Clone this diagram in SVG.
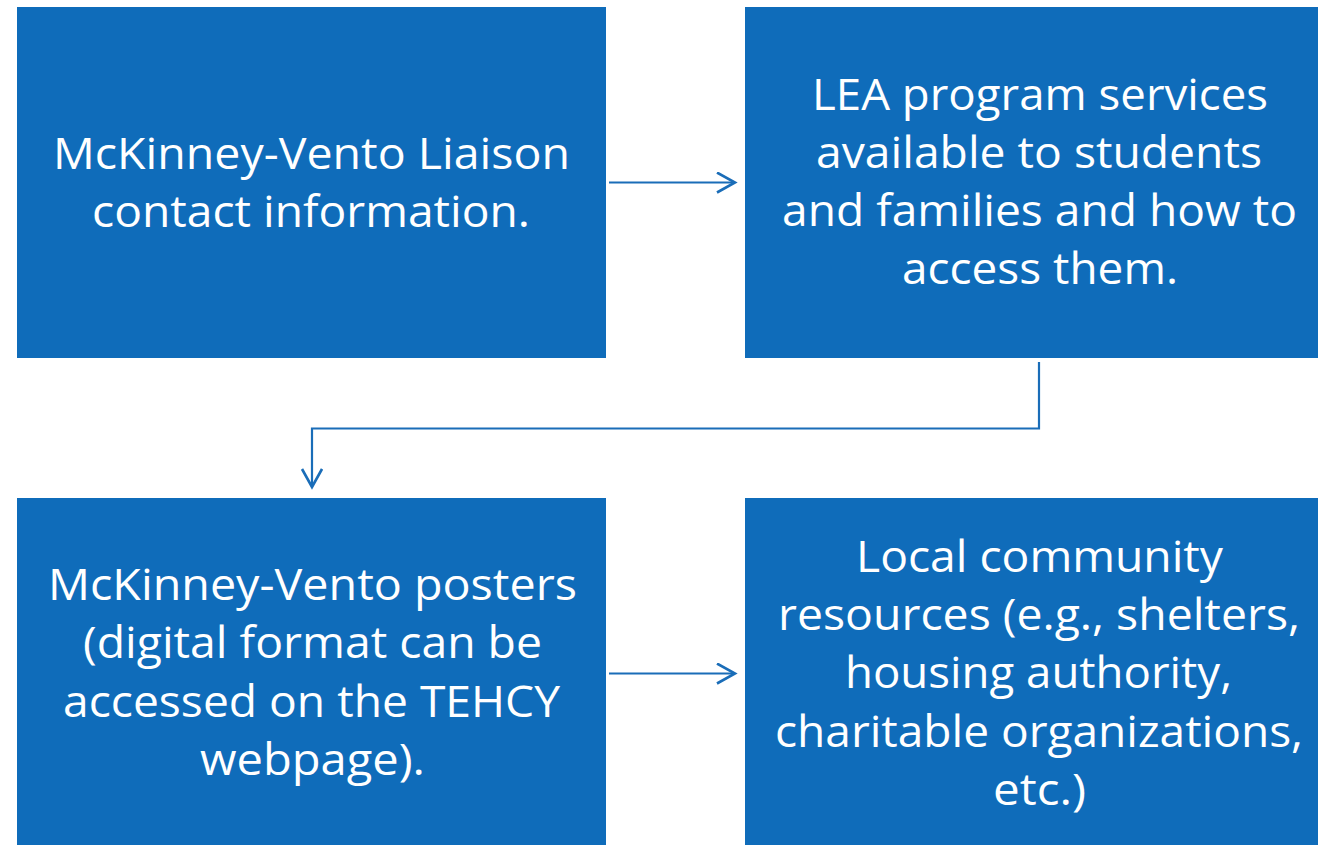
<svg xmlns="http://www.w3.org/2000/svg" width="1318" height="845" viewBox="0 0 1318 845">
<style>
.box{fill:#0F6CBA}
.t{font-family:"Open Sans","Noto Sans","Liberation Sans",sans-serif;font-size:44px;fill:#FFFFFF;text-anchor:middle}
.c{fill:none;stroke:#1A6DB8;stroke-width:2.2}
</style>
<defs>
<marker id="ah" markerUnits="userSpaceOnUse" markerWidth="24" markerHeight="24" refX="20" refY="11" orient="auto" viewBox="0 0 24 24">
<path d="M2,1 L20,11 L2,21" fill="none" stroke="#1A6DB8" stroke-width="2.6"/>
</marker>
</defs>
<rect width="1318" height="845" fill="#FFFFFF"/>
<g id="node1">
<rect class="box" x="17" y="7" width="589" height="351"/>
<text class="t" x="311.5" y="169" textLength="517" lengthAdjust="spacingAndGlyphs">McKinney-Vento Liaison</text>
<text class="t" x="311" y="227" textLength="438" lengthAdjust="spacingAndGlyphs">contact information.</text>
</g>
<g id="node2">
<rect class="box" x="745" y="7" width="590" height="351"/>
<text class="t" x="1040" y="110" textLength="456" lengthAdjust="spacingAndGlyphs">LEA program services</text>
<text class="t" x="1039" y="168" textLength="446" lengthAdjust="spacingAndGlyphs">available to students</text>
<text class="t" x="1039.5" y="226" textLength="515" lengthAdjust="spacingAndGlyphs">and families and how to</text>
<text class="t" x="1040" y="284" textLength="276" lengthAdjust="spacingAndGlyphs">access them.</text>
</g>
<g id="node3">
<rect class="box" x="17" y="498" width="589" height="360"/>
<text class="t" x="312.5" y="600" textLength="529" lengthAdjust="spacingAndGlyphs">McKinney-Vento posters</text>
<text class="t" x="312.5" y="658" textLength="459" lengthAdjust="spacingAndGlyphs">(digital format can be</text>
<text class="t" x="311.5" y="717" textLength="497" lengthAdjust="spacingAndGlyphs">accessed on the TEHCY</text>
<text class="t" x="312.5" y="775" textLength="225" lengthAdjust="spacingAndGlyphs">webpage).</text>
</g>
<g id="node4">
<rect class="box" x="745" y="498" width="590" height="360"/>
<text class="t" x="1039.5" y="572" textLength="367" lengthAdjust="spacingAndGlyphs">Local community</text>
<text class="t" x="1039" y="630" textLength="522" lengthAdjust="spacingAndGlyphs">resources (e.g., shelters,</text>
<text class="t" x="1038.5" y="688" textLength="387" lengthAdjust="spacingAndGlyphs">housing authority,</text>
<text class="t" x="1039" y="747" textLength="528" lengthAdjust="spacingAndGlyphs">charitable organizations,</text>
<text class="t" x="1039.5" y="805" textLength="93" lengthAdjust="spacingAndGlyphs">etc.)</text>
</g>
<g id="connectors">
<path class="c" d="M609,182.5 H735" marker-end="url(#ah)"/>
<path class="c" d="M1039,362 V428.5 H312 V487" marker-end="url(#ah)"/>
<path class="c" d="M609,673.5 H735" marker-end="url(#ah)"/>
</g>
</svg>
